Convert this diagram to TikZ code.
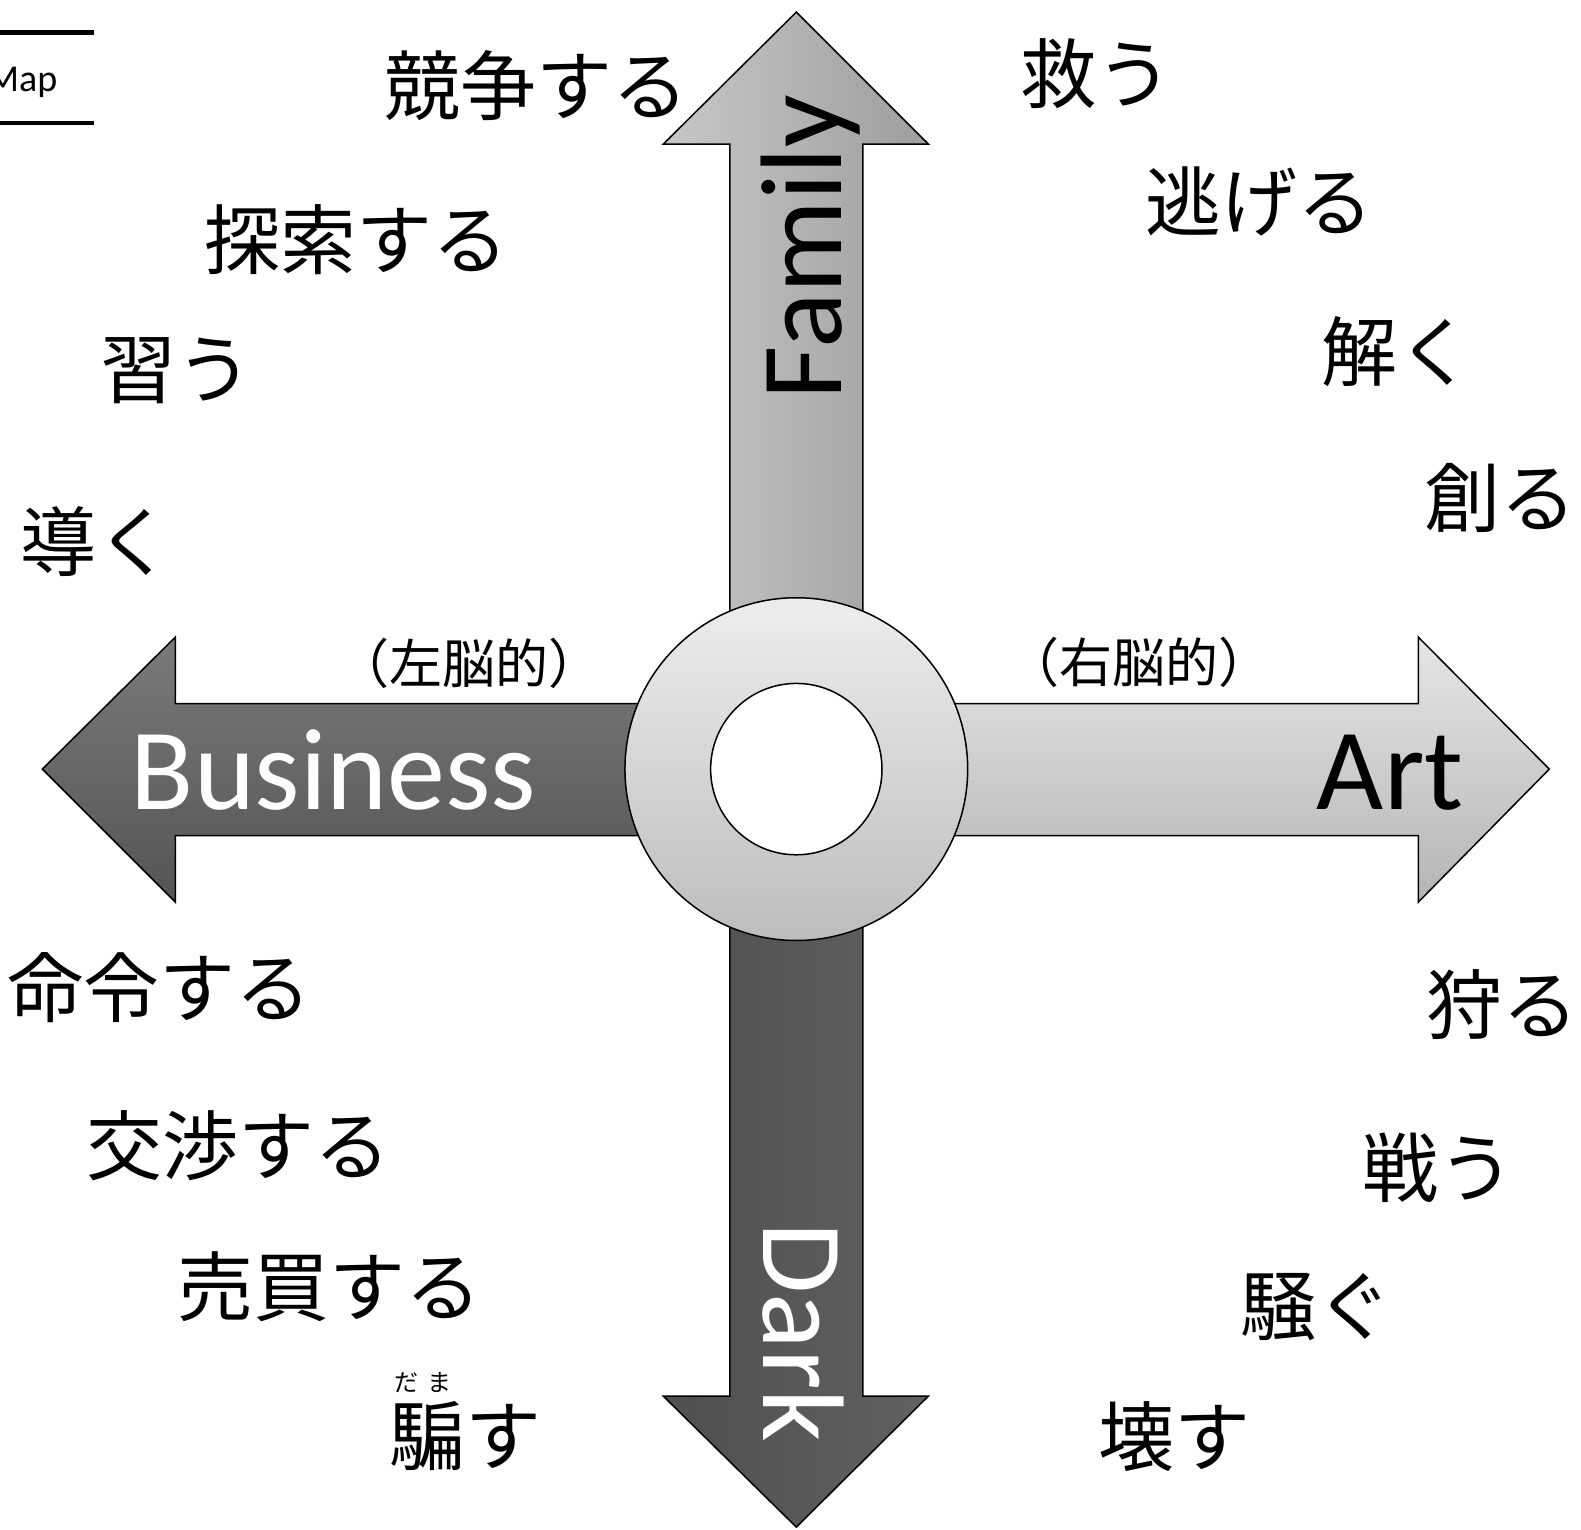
\documentclass[tikz,border=0pt]{standalone}
\usepackage{fontspec}
\setmainfont{Carlito}
\newfontfamily\jp{Noto Sans CJK JP}
\begin{document}
\begin{tikzpicture}[x=1.008pt,y=-1.008pt,
  outline/.style={draw=black,line width=1.5pt,line join=miter},
  verb/.style={font=\jp\fontsize{76}{76}\selectfont,inner sep=0pt,anchor=center},
  side/.style={font=\jp\fontsize{53}{53}\selectfont,inner sep=0pt,anchor=center},
  axis/.style={font=\fontsize{116}{116}\selectfont,inner sep=0pt,anchor=base}]
\useasboundingbox (0pt,0pt) rectangle (1581pt,-1529pt);
\clip (0pt,0pt) rectangle (1581pt,-1529pt);
% Map fragment
\coordinate (m1) at (-5,32); \coordinate (m2) at (93,32);
\coordinate (m3) at (-5,122); \coordinate (m4) at (93,122);
\draw[line width=4.5pt] (m1) -- (m2);
\draw[line width=4.5pt] (m3) -- (m4);
\node[font=\fontsize{38}{38}\selectfont,inner sep=0pt,anchor=base east] (map) at (57,91) {Map};
% arrows
\shade[outline,left color=white!78!black,right color=white!62!black]
  (724,700) -- (724,143) -- (658,143) -- (790,12) -- (921,143) -- (856,143) -- (856,700) -- cycle;
\shade[outline,left color=white!31!black,right color=white!38!black]
  (724,820) -- (724,1385) -- (658,1385) -- (790,1515) -- (921,1385) -- (856,1385) -- (856,820) -- cycle;
\shade[outline,top color=white!48!black,bottom color=white!33!black]
  (700,698) -- (174,698) -- (174,632) -- (42,763) -- (174,895) -- (174,829) -- (700,829) -- cycle;
\shade[outline,top color=white!90!black,bottom color=white!71!black]
  (880,698) -- (1407,698) -- (1407,632) -- (1537,763) -- (1407,895) -- (1407,829) -- (880,829) -- cycle;
% ring
\shade[outline,top color=white!93!black,bottom color=white!74!black] (790,763) circle (170);
\draw[outline,fill=white] (790,763) circle (85);
% axis labels
\node[axis,text=white] (business) at (331,803) {Business};
\node[axis] (art) at (1379,803) {Art};
\node[axis,rotate=90] (family) at (835,245) {Family};
\node[axis,rotate=-90,text=white] (dark) at (757,1322) {Dark};
\node[side] (left) at (465,658) {（左脳的）};
\node[side] (right) at (1130,657) {（右脳的）};
% verbs
\node[verb] (v1) at (532,85) {競争する};
\node[verb] (v2) at (354,238) {探索する};
\node[verb] (v3) at (175,368) {習う};
\node[verb] (v4) at (96,537) {導く};
\node[verb] (v5) at (1088,73) {救う};
\node[verb] (v6) at (1249,200) {逃げる};
\node[verb] (v7) at (1386,349) {解く};
\node[verb] (v8) at (1489,494) {創る};
\node[verb] (v9) at (158,980) {命令する};
\node[verb] (v10) at (237,1137) {交渉する};
\node[verb] (v11) at (327,1277) {売買する};
\node[verb] (v12) at (462,1425) {騙す};
\node[font=\jp\fontsize{24}{24}\selectfont,inner sep=0pt] (ruby) at (420,1372) {だ\hspace{9pt}ま};
\node[verb] (v13) at (1491,997) {狩る};
\node[verb] (v14) at (1427,1158) {戦う};
\node[verb] (v15) at (1306,1297) {騒ぐ};
\node[verb] (v16) at (1165,1425) {壊す};
\end{tikzpicture}
\end{document}
